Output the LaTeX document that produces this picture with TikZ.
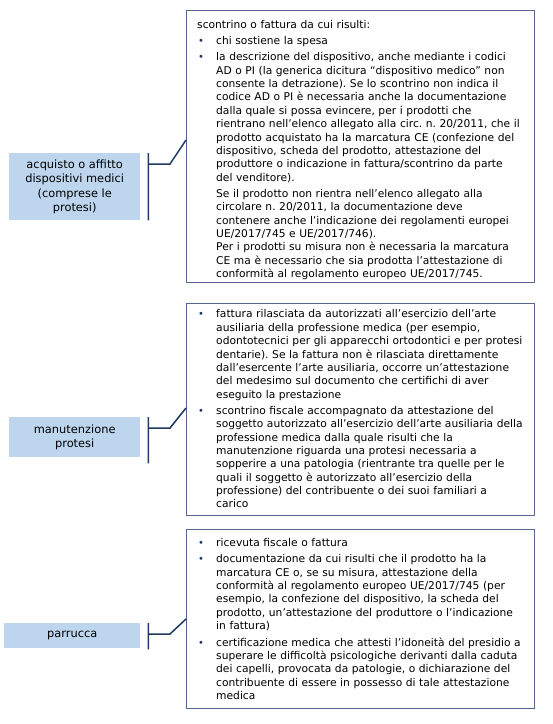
\documentclass[tikz,border=0pt]{standalone}
\usepackage{fontspec}
\setmainfont{DejaVu Sans}
\usetikzlibrary{calc}

\definecolor{labfill}{RGB}{189,214,238}
\definecolor{boxline}{RGB}{84,104,142}
\definecolor{barblue}{RGB}{31,56,100}

% bullet item and continued paragraph inside the document boxes
\newcommand{\voce}[1]{\hangindent=19bp\hangafter=1\noindent\makebox[19bp][l]{\kern0.8bp\textcolor{barblue}{\fontsize{10bp}{10bp}\selectfont •}}#1\par}
\newcommand{\segue}[1]{\hangindent=19bp\hangafter=0\noindent #1\par}

\begin{document}
\begin{tikzpicture}[x=1bp, y=-1bp,
  labbox/.style={fill=labfill, inner sep=0pt, align=center, anchor=north west,
    font=\fontsize{11.4bp}{14.5bp}\selectfont},
  docbox/.style={draw=boxline, line width=1.3bp, anchor=north west, inner sep=0pt,
    minimum width=348bp},
  doctext/.style={anchor=north west, inner sep=0pt, text width=334bp,
    font=\fontsize{10.7bp}{13.36bp}\selectfont\frenchspacing\setlength{\parskip}{3bp}},
  callout/.style={draw=barblue, line width=1.5bp}]

  % Fix the page size
  \useasboundingbox (0,0) rectangle (553,724);

  % Draw the labels on the left
  \node[labbox, minimum width=131bp, minimum height=67bp] (lab1) at (9,153)
    {acquisto o affitto\\dispositivi medici\\(comprese le\\protesi)};
  \node[labbox, minimum width=131bp, minimum height=40bp] (lab2) at (9,417)
    {manutenzione\\protesi};
  \node[labbox, minimum width=136bp, minimum height=25bp] (lab3) at (4,623)
    {parrucca};

  % Draw the document boxes
  \node[docbox, minimum height=272bp] (doc1) at (186,10) {};
  \node[docbox, minimum height=212bp] (doc2) at (186,302.5) {};
  \node[docbox, minimum height=179bp] (doc3) at (186,529) {};

  % Texts of the boxes
  \node[doctext] (txt1) at (197,19.8) {%
    scontrino o fattura da cui risulti:\par
    \voce{chi sostiene la spesa}
    \voce{la descrizione del dispositivo, anche mediante i codici\newline
      AD o PI (la generica dicitura “dispositivo medico” non\newline
      consente la detrazione). Se lo scontrino non indica il\newline
      codice AD o PI è necessaria anche la documentazione\newline
      dalla quale si possa evincere, per i prodotti che\newline
      rientrano nell’elenco allegato alla circ. n. 20/2011, che il\newline
      prodotto acquistato ha la marcatura CE (confezione del\newline
      dispositivo, scheda del prodotto, attestazione del\newline
      produttore o indicazione in fattura/scontrino da parte\newline
      del venditore).}
    \segue{Se il prodotto non rientra nell’elenco allegato alla\newline
      circolare n. 20/2011, la documentazione deve\newline
      contenere anche l’indicazione dei regolamenti europei\newline
      UE/2017/745 e UE/2017/746).\newline
      Per i prodotti su misura non è necessaria la marcatura\newline
      CE ma è necessario che sia prodotta l’attestazione di\newline
      conformità al regolamento europeo UE/2017/745.}};

  \node[doctext] (txt2) at (197,309.6) {%
    \voce{fattura rilasciata da autorizzati all’esercizio dell’arte\newline
      ausiliaria della professione medica (per esempio,\newline
      odontotecnici per gli apparecchi ortodontici e per protesi\newline
      dentarie). Se la fattura non è rilasciata direttamente\newline
      dall’esercente l’arte ausiliaria, occorre un’attestazione\newline
      del medesimo sul documento che certifichi di aver\newline
      eseguito la prestazione}
    \voce{scontrino fiscale accompagnato da attestazione del\newline
      soggetto autorizzato all’esercizio dell’arte ausiliaria della\newline
      professione medica dalla quale risulti che la\newline
      manutenzione riguarda una protesi necessaria a\newline
      sopperire a una patologia (rientrante tra quelle per le\newline
      quali il soggetto è autorizzato all’esercizio della\newline
      professione) del contribuente o dei suoi familiari a\newline
      carico}};

  \node[doctext] (txt3) at (197,538.2) {%
    \voce{ricevuta fiscale o fattura}
    \voce{documentazione da cui risulti che il prodotto ha la\newline
      marcatura CE o, se su misura, attestazione della\newline
      conformità al regolamento europeo UE/2017/745 (per\newline
      esempio, la confezione del dispositivo, la scheda del\newline
      prodotto, un’attestazione del produttore o l’indicazione\newline
      in fattura)}
    \voce{certificazione medica che attesti l’idoneità del presidio a\newline
      superare le difficoltà psicologiche derivanti dalla caduta\newline
      dei capelli, provocata da patologie, o dichiarazione del\newline
      contribuente di essere in possesso di tale attestazione\newline
      medica}};

  % Points of the callout lines
  \coordinate (bar1a) at ($(lab1.north east)+(8,0)$);
  \coordinate (bar1b) at ($(lab1.south east)+(8,0)$);
  \coordinate (elb1a) at (148,164);
  \coordinate (elb1b) at (170,164);
  \coordinate (tip1) at (doc1.west |- 0,140);

  \coordinate (bar2a) at ($(lab2.north east)+(8,0)$);
  \coordinate (bar2b) at ($(lab2.south east)+(8,6)$);
  \coordinate (elb2a) at (148,428);
  \coordinate (elb2b) at (170,428);
  \coordinate (tip2) at (doc2.west |- 0,408);

  \coordinate (bar3a) at ($(lab3.north east)+(8,0)$);
  \coordinate (bar3b) at ($(lab3.south east)+(8,1)$);
  \coordinate (elb3a) at (148,634);
  \coordinate (elb3b) at (170,634);
  \coordinate (tip3) at (doc3.west |- 0,619);

  % Draw the callout lines
  \draw[callout] (bar1a) -- (bar1b) (elb1a) -- (elb1b) -- (tip1);
  \draw[callout] (bar2a) -- (bar2b) (elb2a) -- (elb2b) -- (tip2);
  \draw[callout] (bar3a) -- (bar3b) (elb3a) -- (elb3b) -- (tip3);

\end{tikzpicture}
\end{document}
